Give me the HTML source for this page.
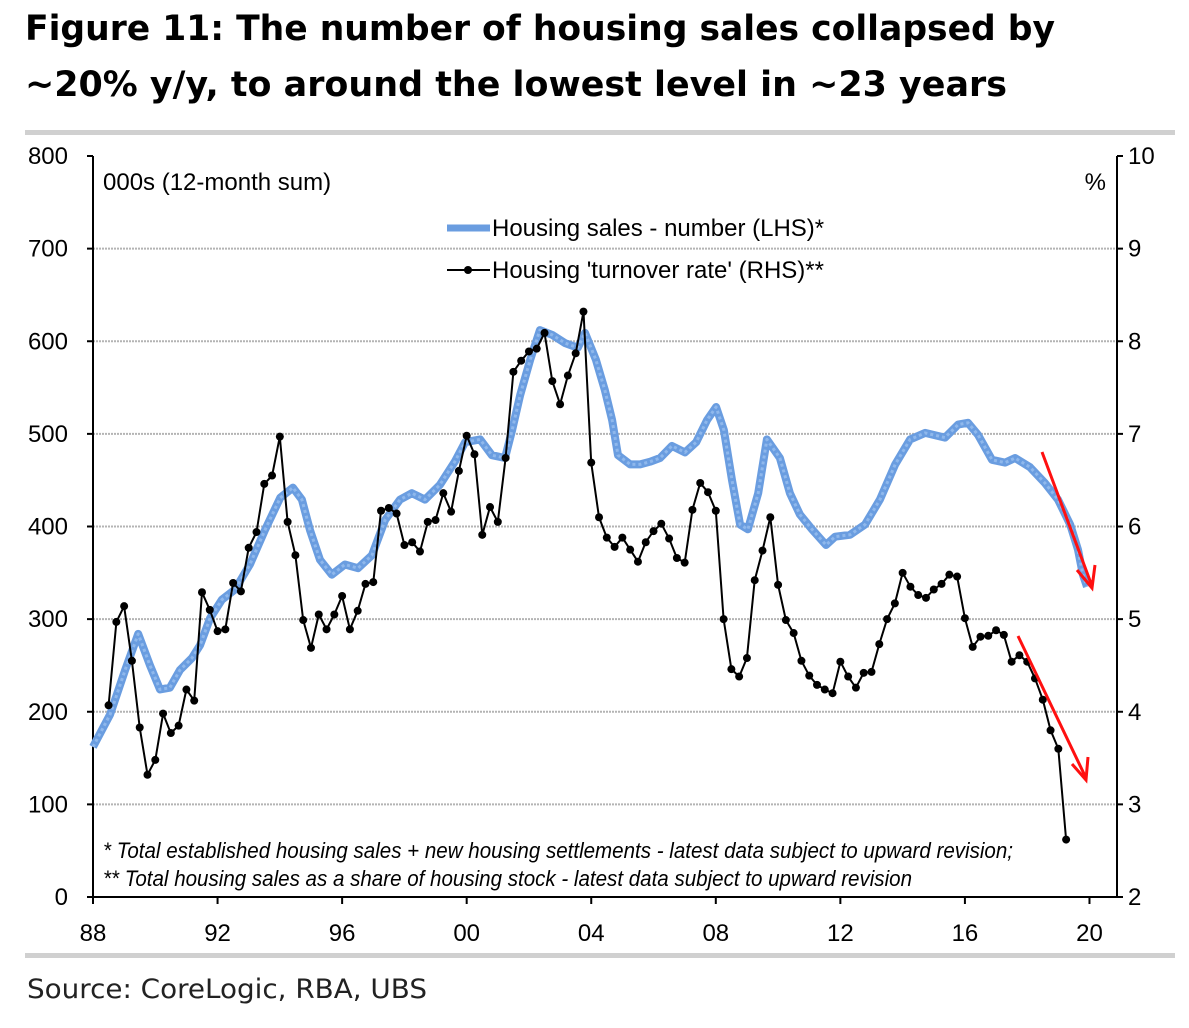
<!DOCTYPE html>
<html><head><meta charset="utf-8">
<style>
body{margin:0;background:#fff;width:1189px;height:1028px;overflow:hidden;font-family:"Liberation Sans",sans-serif}
svg{position:absolute;left:0;top:0}
</style></head>
<body>
<svg width="1189" height="1028" id="chart">
<text x="25" y="40" font-size="35" font-weight="bold" font-family="DejaVu Sans, sans-serif" textLength="1030" lengthAdjust="spacingAndGlyphs">Figure 11: The number of housing sales collapsed by</text>
<text x="25" y="96" font-size="35" font-weight="bold" font-family="DejaVu Sans, sans-serif" textLength="982" lengthAdjust="spacingAndGlyphs">~20% y/y, to around the lowest level in ~23 years</text>
<rect x="25" y="130" width="1150" height="5" fill="#d0d0d0"/>
<rect x="25" y="953" width="1150" height="5" fill="#d0d0d0"/>
<text x="27" y="998" font-size="27" fill="#222" font-family="DejaVu Sans, sans-serif" textLength="400" lengthAdjust="spacingAndGlyphs">Source:  CoreLogic, RBA, UBS</text>
<g id="grid"></g>
<g id="axes"></g>
<g id="series"></g>
<text x="103" y="190" font-size="24" font-family="Liberation Sans Narrow, Liberation Sans, sans-serif">000s (12-month sum)</text>
<text x="1106" y="190" font-size="24" text-anchor="end" font-family="Liberation Sans Narrow, Liberation Sans, sans-serif">%</text>
<g font-family="Liberation Sans Narrow, Liberation Sans, sans-serif" font-size="24">
<line x1="447" y1="228" x2="490" y2="228" stroke="#6a9de0" stroke-width="7"/>
<text x="492" y="236">Housing sales - number (LHS)*</text>
<line x1="447" y1="270" x2="490" y2="270" stroke="#000" stroke-width="2"/>
<circle cx="468" cy="270" r="4" fill="#000"/>
<text x="492" y="278">Housing 'turnover rate' (RHS)**</text>
</g>
<g font-style="italic" font-size="22" font-family="Liberation Sans Narrow, Liberation Sans, sans-serif">
<text x="103" y="858" textLength="910" lengthAdjust="spacingAndGlyphs">* Total established housing sales + new housing settlements - latest data subject to upward revision;</text>
<text x="103" y="886" textLength="809" lengthAdjust="spacingAndGlyphs">** Total housing sales as a share of housing stock - latest data subject to upward revision</text>
</g>
<g stroke="#ff1010" stroke-width="3" fill="none">
<path d="M1042 452 L1092 586 M1077 570 L1092 588 L1095 565"/>
<path d="M1018 636 L1086 778 M1072 764 L1086 780 L1088 757"/>
</g>
</svg>
<script>
const leftTicks=[0,100,200,300,400,500,600,700,800];
const rightTicks=[2,3,4,5,6,7,8,9,10];
const xTickYears=[1988,1992,1996,2000,2004,2008,2012,2016,2020];
const xTickLabels=["88","92","96","00","04","08","12","16","20"];
const salesYears=[1988.0,1988.55,1989.03,1989.45,1989.83,1990.15,1990.47,1990.79,1991.18,1991.44,1991.76,1992.14,1992.56,1993.04,1993.52,1994.01,1994.42,1994.71,1994.97,1995.29,1995.67,1996.09,1996.51,1996.96,1997.38,1997.86,1998.24,1998.66,1999.14,1999.62,1999.95,2000.43,2000.81,2001.23,2001.46,2001.72,2002.04,2002.35,2002.74,2003.16,2003.57,2003.80,2004.15,2004.44,2004.67,2004.86,2005.25,2005.57,2005.89,2006.21,2006.59,2007.01,2007.37,2007.72,2008.01,2008.26,2008.52,2008.78,2009.03,2009.36,2009.64,2010.06,2010.38,2010.70,2011.09,2011.54,2011.83,2012.31,2012.79,2013.27,2013.76,2014.24,2014.72,2015.36,2015.78,2016.10,2016.42,2016.87,2017.29,2017.61,2018.09,2018.57,2018.99,2019.38,2019.63,2019.79,2019.92];
const salesValues=[162,197,245,284,250,224,226,245,258,272,301,321,332,359,396,431,442,429,396,364,348,359,355,369,407,429,436,429,445,470,491,494,477,474,504,542,580,612,607,598,593,609,580,547,515,477,467,467,470,474,487,480,491,515,529,504,450,402,397,436,494,474,436,413,397,380,389,391,402,429,467,494,501,496,510,512,499,472,469,474,464,447,429,402,375,348,335];
const turnoverStart=1988.5;
const turnoverValues=[4.07,4.97,5.14,4.55,3.83,3.32,3.48,3.98,3.77,3.85,4.24,4.12,5.29,5.10,4.87,4.89,5.39,5.30,5.77,5.94,6.46,6.55,6.97,6.05,5.69,4.99,4.69,5.05,4.89,5.05,5.25,4.89,5.09,5.38,5.40,6.17,6.20,6.14,5.80,5.83,5.73,6.05,6.07,6.36,6.16,6.60,6.98,6.78,5.91,6.21,6.05,6.74,7.67,7.79,7.89,7.92,8.09,7.57,7.32,7.63,7.87,8.32,6.69,6.10,5.88,5.78,5.88,5.75,5.62,5.83,5.95,6.03,5.87,5.66,5.61,6.18,6.47,6.37,6.17,5.00,4.46,4.38,4.58,5.42,5.74,6.10,5.37,4.99,4.85,4.55,4.39,4.29,4.24,4.20,4.54,4.38,4.26,4.42,4.43,4.73,5.00,5.17,5.50,5.35,5.26,5.23,5.32,5.38,5.48,5.46,5.01,4.70,4.81,4.82,4.88,4.83,4.54,4.61,4.54,4.36,4.13,3.80,3.60,2.62];

const NS='http://www.w3.org/2000/svg';
const X0=93,X1=1117,YT=156,YB=897;
const xs=y=>X0+(y-1988)*31.14;
const yL=v=>YB-(v/800)*(YB-YT);
const yR=v=>YB-((v-2)/8)*(YB-YT);
function mk(tag,attrs,parent){const e=document.createElementNS(NS,tag);for(const k in attrs)e.setAttribute(k,attrs[k]);document.getElementById(parent).appendChild(e);return e;}
leftTicks.forEach((v,i)=>{
  const y=yL(v);
  if(v>0&&v<800){const g=mk('line',{x1:X0,x2:X1,y1:y,y2:y,stroke:'#b4b4b4','stroke-width':2,'stroke-dasharray':'2 1'},'grid');
  
  }
  const t=mk('line',{x1:X0-6,x2:X0,y1:y,y2:y,stroke:'#000','stroke-width':2},'axes');
  
  
  const l=mk('text',{x:68,y:y+8,'text-anchor':'end','font-size':24,'font-family':'Liberation Sans Narrow, Liberation Sans, sans-serif'},'axes');l.textContent=v;
  
  
});
rightTicks.forEach(v=>{
  const y=yR(v);
  const t=mk('line',{x1:X1,x2:X1+6,y1:y,y2:y,stroke:'#000','stroke-width':2},'axes');
  
  
  const l=mk('text',{x:1128,y:y+8,'font-size':24,'font-family':'Liberation Sans Narrow, Liberation Sans, sans-serif'},'axes');l.textContent=v;
  
  
});
xTickYears.forEach((yr,i)=>{
  const x=xs(yr);
  const t=mk('line',{x1:x,x2:x,y1:YB,y2:YB+7,stroke:'#000','stroke-width':2},'axes');
  
  
  const l=mk('text',{x:x,y:941,'text-anchor':'middle','font-size':24,'font-family':'Liberation Sans Narrow, Liberation Sans, sans-serif'},'axes');l.textContent=xTickLabels[i];
  
  
});
[['M'+X0+' '+YT+' V'+YB+' H'+X1+' V'+YT,'plot-frame']].forEach(([d,n])=>{
  const p=mk('path',{d:d,fill:'none',stroke:'#000','stroke-width':2},'axes');
  
  
});
const sp=salesYears.map((yr,i)=>xs(yr).toFixed(1)+','+yL(salesValues[i]).toFixed(1)).join(' ');
const s1=mk('polyline',{points:sp,fill:'none',stroke:'#6a9de0','stroke-width':8,'stroke-linejoin':'round'},'series');


const s2=mk('polyline',{points:sp,fill:'none',stroke:'#8fb8ec','stroke-width':3,'stroke-linejoin':'round','stroke-dasharray':'3 3'},'series');


const tp=turnoverValues.map((v,i)=>xs(turnoverStart+i*0.25).toFixed(1)+','+yR(v).toFixed(1)).join(' ');
const t1=mk('polyline',{points:tp,fill:'none',stroke:'#000','stroke-width':2},'series');


turnoverValues.forEach((v,i)=>{
  const c=mk('circle',{cx:xs(turnoverStart+i*0.25),cy:yR(v),r:4,fill:'#000'},'series');
  
  
});
</script>
</body></html>
